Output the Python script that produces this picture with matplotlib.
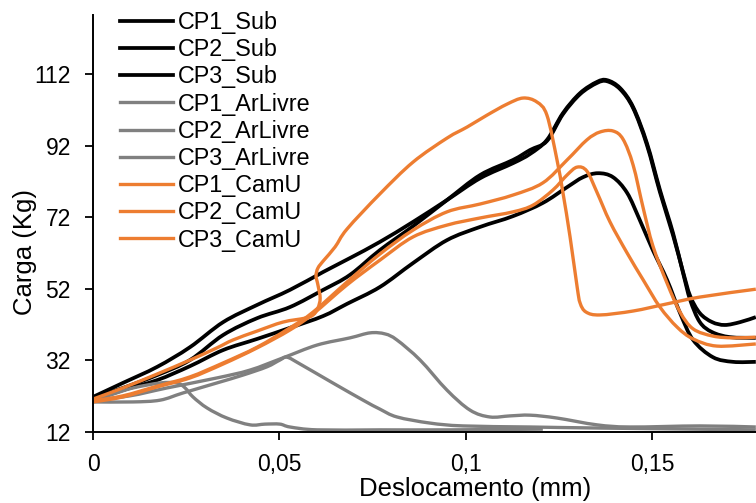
import matplotlib
matplotlib.use("Agg")
import matplotlib.pyplot as plt
from matplotlib.path import Path
from matplotlib.patches import PathPatch
from matplotlib.lines import Line2D

plt.rcParams['font.family'] = ['Liberation Sans', 'DejaVu Sans']

# ---- data (Deslocamento mm, Carga Kg) ----
sub1_x = [0, .0080, .0172, .0260, .0349, .0440, .0528, .0617, .0689, .0769, .0858, .0949, .1038, .1126, .1172, .1217,
          .1260, .1306, .1351, .1378, .1413, .1448, .1485, .1520, .1555, .1582, .1601, .1627, .1660, .1708, .1777]
sub1_y = [21.8, 25.7, 30.2, 35.7, 42.7, 47.5, 51.7, 56.7, 60.6, 65.1, 70.7, 76.8, 82.9, 87.1, 89.7, 93.6,
          101.1, 106.7, 109.8, 110.3, 108.1, 102.8, 92.7, 79.6, 67.6, 56.4, 48.9, 42.7, 39.9, 38.5, 38.3]

sub2_x = [0, .0080, .0172, .0260, .0349, .0440, .0528, .0617, .0689, .0769, .0858, .0949, .1038, .1126, .1172, .1217,
          .1260, .1306, .1351, .1378, .1413, .1448, .1485, .1520, .1555, .1582, .1601, .1627, .1660, .1694, .1735, .1777]
sub2_y = [21.5, 24.3, 27.9, 32.1, 39.1, 43.8, 46.9, 51.7, 55.9, 62.8, 69.5, 76.8, 83.8, 88.0, 90.8, 93.3,
          100.8, 106.4, 109.5, 110.0, 107.8, 102.5, 92.2, 79.0, 67.0, 56.7, 50.0, 45.2, 42.7, 41.9, 42.7, 44.1]

sub3_x = [0, .0080, .0172, .0260, .0349, .0440, .0528, .0617, .0681, .0769, .0858, .0949, .1038, .1126, .1206, .1271,
          .1314, .1354, .1394, .1432, .1466, .1501, .1539, .1574, .1609, .1662, .1716, .1777]
sub3_y = [20.9, 23.7, 26.5, 30.4, 34.9, 38.0, 41.1, 44.4, 47.8, 52.5, 59.2, 65.6, 69.3, 72.3, 76.0, 80.4,
          83.2, 84.3, 83.2, 78.8, 71.2, 62.8, 54.5, 45.2, 37.7, 32.9, 31.6, 31.6]

ar1_x = [0, .0054, .0107, .0180, .0225, .0247, .0268, .0306, .0359, .0421, .0461, .0501, .0528, .0601, .0769, .0957, .1206]
ar1_y = [20.9, 22.6, 24.3, 25.7, 25.7, 24.3, 21.8, 18.7, 15.9, 14.0, 14.2, 14.2, 13.4, 12.6, 12.6, 12.6, 12.8]

ar2_x = [0, .0107, .0180, .0241, .0332, .0402, .0466, .0501, .0520, .0555, .0643, .0724, .0769, .0815, .0903, .0992,
         .1172, .1359, .1777]
ar2_y = [20.4, 20.4, 20.9, 22.9, 25.7, 27.9, 30.2, 32.1, 32.9, 31.0, 25.7, 20.9, 18.4, 16.2, 14.5, 13.7,
         13.4, 13.1, 12.6]

ar3_x = [0, .0099, .0198, .0332, .0421, .0509, .0601, .0689, .0743, .0783, .0815, .0877, .0949, .1011, .1064, .1118,
         .1172, .1244, .1351, .1440, .1627, .1777]
ar3_y = [20.9, 22.1, 24.3, 27.1, 29.3, 32.7, 36.3, 38.3, 39.7, 39.4, 37.7, 32.1, 23.7, 18.1, 16.2, 16.5,
         16.7, 15.9, 14.0, 13.4, 13.7, 13.4]

cam1_x = [0, .0080, .0172, .0260, .0332, .0375, .0440, .0509, .0568, .0590, .0603, .0609, .0603, .0598, .0603, .0619,
          .0649, .0681, .0769, .0858, .0949, .1003, .1056, .1110, .1153, .1190, .1217, .1244, .1260, .1279, .1298,
          .1306, .1322, .1359, .1448, .1539, .1627, .1777]
cam1_y = [21.2, 24.3, 28.2, 32.1, 35.5, 37.7, 40.2, 42.7, 43.8, 44.7, 46.6, 49.4, 53.1, 55.6, 57.8, 60.0,
          63.7, 68.7, 78.5, 87.4, 94.1, 97.2, 100.5, 103.6, 105.3, 104.2, 100.5, 88.0, 78.8, 66.5, 52.5,
          48.0, 45.5, 44.7, 45.8, 47.8, 49.7, 51.9]

cam2_x = [0, .0080, .0172, .0260, .0349, .0440, .0528, .0590, .0681, .0769, .0858, .0949, .1038, .1126, .1206, .1271,
          .1324, .1359, .1394, .1421, .1448, .1475, .1501, .1539, .1574, .1609, .1662, .1716, .1777]
cam2_y = [20.7, 22.1, 24.8, 27.4, 31.3, 35.7, 41.1, 45.5, 53.9, 61.7, 68.4, 73.5, 75.7, 78.2, 81.6, 88.0,
          93.6, 95.8, 96.1, 93.8, 86.6, 74.6, 64.0, 53.6, 45.5, 40.8, 38.8, 38.3, 38.5]

cam3_x = [0, .0080, .0172, .0260, .0349, .0440, .0528, .0590, .0681, .0769, .0858, .0949, .1038, .1126, .1180, .1233,
          .1271, .1298, .1324, .1351, .1386, .1432, .1475, .1520, .1566, .1609, .1673, .1777]
cam3_y = [20.4, 21.8, 24.6, 27.1, 31.0, 35.5, 40.5, 45.0, 53.1, 60.0, 66.5, 69.8, 71.8, 73.5, 75.4, 79.6,
          83.8, 86.0, 84.9, 79.0, 70.7, 62.0, 54.5, 46.9, 41.3, 38.0, 36.0, 36.6]

labels = ['CP1_Sub', 'CP2_Sub', 'CP3_Sub', 'CP1_ArLivre', 'CP2_ArLivre', 'CP3_ArLivre',
          'CP1_CamU', 'CP2_CamU', 'CP3_CamU']
xticks = [0, 0.05, 0.1, 0.15]
xticklabels = ['0', '0,05', '0,1', '0,15']
yticks = [12, 32, 52, 72, 92, 112]

BLACK = '#000000'
GREY = '#808080'
ORANGE = '#ED7D31'


def smooth_path(xs, ys):
    """Excel-style smoothed line: cubic Bezier segments through every data point."""
    pts = list(zip(xs, ys))
    n = len(pts)
    verts = [pts[0]]
    codes = [Path.MOVETO]
    for i in range(n - 1):
        p0 = pts[i - 1] if i > 0 else pts[i]
        p1 = pts[i]
        p2 = pts[i + 1]
        p3 = pts[i + 2] if i + 2 < n else pts[i + 1]
        c1 = (p1[0] + (p2[0] - p0[0]) / 6, p1[1] + (p2[1] - p0[1]) / 6)
        c2 = (p2[0] - (p3[0] - p1[0]) / 6, p2[1] - (p3[1] - p1[1]) / 6)
        verts += [c1, c2, p2]
        codes += [Path.CURVE4] * 3
    return Path(verts, codes)


fig = plt.figure(figsize=(7.56, 5.03), dpi=100)
ax = fig.add_axes([93 / 756, 71 / 503, 663 / 756, 417 / 503])

series = [
    (sub1_x, sub1_y, BLACK, 2.7), (sub2_x, sub2_y, BLACK, 2.7), (sub3_x, sub3_y, BLACK, 2.7),
    (ar1_x, ar1_y, GREY, 2.4), (ar2_x, ar2_y, GREY, 2.4), (ar3_x, ar3_y, GREY, 2.4),
    (cam1_x, cam1_y, ORANGE, 2.4), (cam2_x, cam2_y, ORANGE, 2.4), (cam3_x, cam3_y, ORANGE, 2.4),
]
handles = []
for (xs, ys, c, lw), lab in zip(series, labels):
    patch = PathPatch(smooth_path(xs, ys), fill=False, edgecolor=c, lw=lw,
                      joinstyle='round', capstyle='butt', transform=ax.transData)
    ax.add_patch(patch)
    handles.append(Line2D([], [], color=c, lw=lw, label=lab))

ax.set_xlim(0, 0.17775)
ax.set_ylim(12, 128.5)
ax.set_xticks(xticks)
ax.set_xticklabels(xticklabels)
ax.set_yticks(yticks)
ax.tick_params(axis='both', labelsize=16.5, length=6, width=1.3, color='black', direction='out')
ax.tick_params(axis='y', pad=10)
ax.tick_params(axis='x', pad=9)
for s in ['top', 'right']:
    ax.spines[s].set_visible(False)
for s in ['left', 'bottom']:
    ax.spines[s].set_linewidth(1.4)
    ax.spines[s].set_color('black')

ax.set_xlabel('Deslocamento (mm)', fontsize=18.5, va='center', ha='center')
ax.xaxis.set_label_coords((475 - 93) / 663, (432 - 489) / 417)
ax.set_ylabel('Carga (Kg)', fontsize=18.5, va='center', ha='center')
ax.yaxis.set_label_coords((25 - 93) / 663, (432 - 252) / 417)

leg = ax.legend(handles=handles, loc='upper left', bbox_to_anchor=(120 / 756, 1 - 11 / 503),
                bbox_transform=fig.transFigure, frameon=False, borderpad=0, borderaxespad=0,
                handlelength=2.26, handletextpad=0.22, labelspacing=0.18, fontsize=16.8)

fig.savefig('out.png', dpi=100)
